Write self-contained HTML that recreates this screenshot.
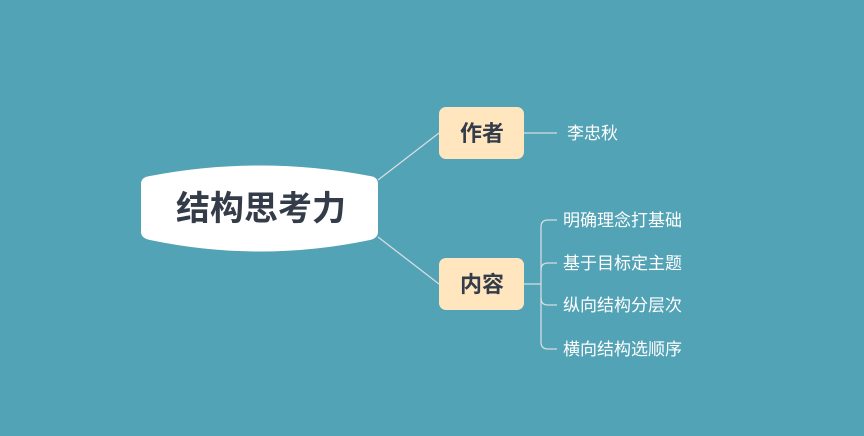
<!DOCTYPE html>
<html><head><meta charset="utf-8"><style>
html,body{margin:0;padding:0}
body{width:864px;height:436px;background:#52a3b5;position:relative;overflow:hidden;font-family:"Liberation Sans","Noto Sans CJK SC",sans-serif}
svg{position:absolute;left:0;top:0}
.t{position:absolute;white-space:nowrap;line-height:1}
</style></head><body>
<svg width="864" height="436">
<path d="M141 184 Q141 177 150 176 Q260 155 370 176 Q378 177 378 184 L378 232 Q378 238 370 240 Q260 263 150 240 Q141 238 141 232 Z" fill="#fff"/>
<g stroke="#d5dde2" stroke-width="1.3" fill="none">
<line x1="378" y1="180" x2="439" y2="133"/>
<line x1="378" y1="237" x2="439" y2="284"/>
<line x1="524" y1="133" x2="557" y2="133"/>
<line x1="524" y1="284" x2="541" y2="284"/>
<path d="M557 220 H548 Q541 220 541 227 V342 Q541 349 548 349 H557"/>
<path d="M557 263 H548 Q541 263 541 270"/>
<path d="M557 305 H548 Q541 305 541 298"/>
</g>
<rect x="439" y="107" width="85" height="52" rx="7" fill="#ffe6bf"/>
<rect x="439" y="258" width="85" height="52" rx="7" fill="#ffe6bf"/>
</svg>
<div class="t" style="left:176px;top:192px;font-size:34px;font-weight:bold;color:#333c48">结构思考力</div>
<div class="t" style="left:460px;top:123px;font-size:22px;font-weight:bold;color:#333c48">作者</div>
<div class="t" style="left:460px;top:274px;font-size:22px;font-weight:bold;color:#333c48">内容</div>
<div class="t" style="left:567px;top:125px;font-size:17px;color:#fff">李忠秋</div>
<div class="t" style="left:563px;top:212px;font-size:17px;color:#fff">明确理念打基础</div>
<div class="t" style="left:563px;top:255px;font-size:17px;color:#fff">基于目标定主题</div>
<div class="t" style="left:563px;top:297px;font-size:17px;color:#fff">纵向结构分层次</div>
<div class="t" style="left:563px;top:341px;font-size:17px;color:#fff">横向结构选顺序</div>
</body></html>
